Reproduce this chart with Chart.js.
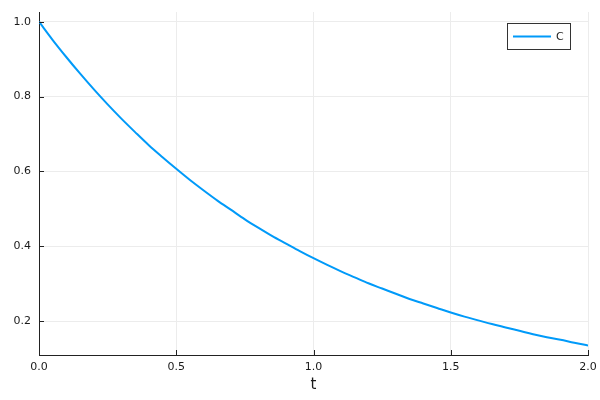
<!DOCTYPE html>
<html>
<head>
<meta charset="utf-8">
<script src="https://cdn.jsdelivr.net/npm/chart.js@4/dist/chart.umd.min.js"></script>
<style>html,body{margin:0;padding:0;background:#fff;}canvas{display:block;}</style>
</head>
<body>
<canvas id="c" width="600" height="400"></canvas>
<script>
const tValues = [0.0,0.05,0.1,0.15,0.2,0.25,0.3,0.35,0.4,0.45,0.5,0.55,0.6,0.65,0.7,0.75,0.8,0.85,0.9,0.95,1.0,1.05,1.1,1.15,1.2,1.25,1.3,1.35,1.4,1.45,1.5,1.55,1.6,1.65,1.7,1.75,1.8,1.85,1.9,1.95,2.0];
const cValues = [1.0,0.951,0.905,0.861,0.819,0.779,0.741,0.705,0.670,0.638,0.607,0.577,0.549,0.522,0.497,0.472,0.449,0.427,0.407,0.387,0.368,0.350,0.333,0.317,0.301,0.287,0.273,0.259,0.247,0.235,0.223,0.212,0.202,0.192,0.183,0.174,0.165,0.157,0.150,0.142,0.135];
const xTicks = [0, 0.5, 1.0, 1.5, 2.0];
const yTicks = [0.2, 0.4, 0.6, 0.8, 1.0];
const seriesLabel = 'C';
const xTitle = 't';
const FONT = '"DejaVu Sans", sans-serif';
const BLUE = '#009af9';

const tickMarks = {
  id: 'tickMarks',
  afterDatasetsDraw(chart) {
    const ctx = chart.ctx, a = chart.chartArea;
    const xs = chart.scales.x, ys = chart.scales.y;
    ctx.save();
    ctx.strokeStyle = '#222';
    ctx.lineWidth = 1;
    ctx.beginPath();
    xTicks.forEach(v => { const px = Math.round(xs.getPixelForValue(v)) + 0.5; ctx.moveTo(px, a.bottom); ctx.lineTo(px, a.bottom - 5); });
    yTicks.forEach(v => { const py = Math.round(ys.getPixelForValue(v)) + 0.5; ctx.moveTo(a.left, py); ctx.lineTo(a.left + 5, py); });
    ctx.stroke();
    // legend
    const bx = 507.5, by = 23.5, bw = 63, bh = 26;
    ctx.fillStyle = '#fff';
    ctx.fillRect(bx, by, bw, bh);
    ctx.strokeStyle = '#333';
    ctx.strokeRect(bx, by, bw, bh);
    const ly = by + bh / 2;
    ctx.strokeStyle = BLUE; ctx.lineWidth = 2;
    ctx.beginPath(); ctx.moveTo(513, ly); ctx.lineTo(551, ly); ctx.stroke();
    ctx.fillStyle = '#222';
    ctx.font = '11px ' + FONT;
    ctx.textBaseline = 'middle'; ctx.textAlign = 'left';
    ctx.fillText(chart.data.datasets[0].label, 556, ly + 0.5);
    ctx.restore();
  }
};

new Chart(document.getElementById('c'), {
  type: 'line',
  data: {
    datasets: [{
      label: seriesLabel,
      data: tValues.map((t, i) => ({x: t, y: cValues[i]})),
      borderColor: BLUE,
      borderWidth: 2,
      pointRadius: 0,
      fill: false,
      cubicInterpolationMode: 'monotone'
    }]
  },
  options: {
    responsive: false,
    animation: false,
    layout: { padding: { left: 0, top: 12, right: 12, bottom: 0 } },
    plugins: { legend: { display: false }, tooltip: { enabled: false } },
    scales: {
      x: {
        type: 'linear', min: 0, max: 2,
        afterBuildTicks(s) { s.ticks = xTicks.map(v => ({value: v})); },
        afterFit(s) { s.height = 45; s.paddingLeft = 0; s.paddingRight = 0; },
        grid: { color: '#ececec', lineWidth: 1, drawTicks: false },
        border: { display: true, color: '#222', width: 1 },
        ticks: { padding: 6, color: '#1a1a1a', font: { family: FONT, size: 11 }, maxRotation: 0, callback: v => Number(v).toFixed(1) },
        title: { display: true, text: xTitle, color: '#1a1a1a', font: { family: FONT, size: 15 }, padding: { top: 0, bottom: 6 } }
      },
      y: {
        type: 'linear', min: 0.1094, max: 1.0259,
        afterBuildTicks(s) { s.ticks = yTicks.map(v => ({value: v})); },
        afterFit(s) { s.width = 39; s.paddingTop = 0; s.paddingBottom = 0; },
        grid: { color: '#ececec', lineWidth: 1, drawTicks: false },
        border: { display: true, color: '#222', width: 1 },
        ticks: { padding: 8, color: '#1a1a1a', font: { family: FONT, size: 11 }, callback: v => Number(v).toFixed(1) }
      }
    }
  },
  plugins: [tickMarks]
});
</script>
</body>
</html>
